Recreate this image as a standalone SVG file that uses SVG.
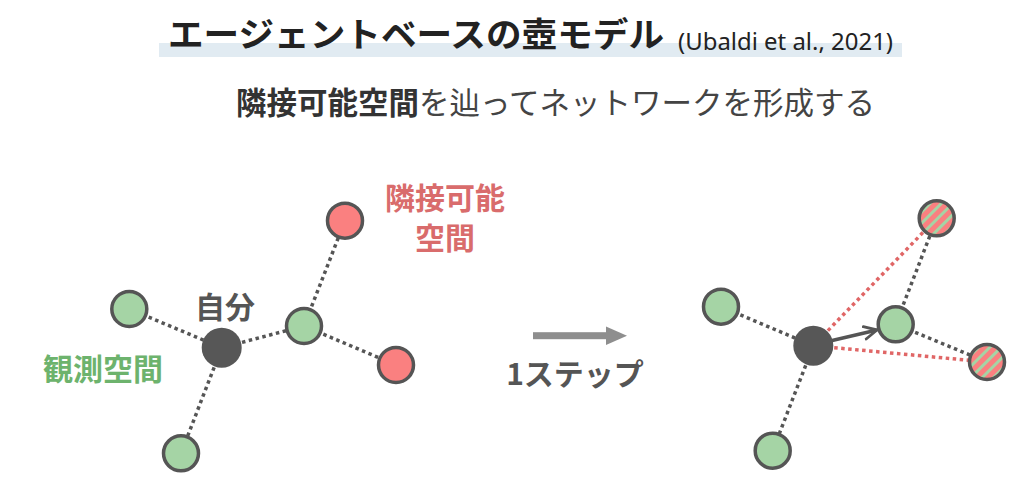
<svg xmlns="http://www.w3.org/2000/svg" width="1036" height="488" viewBox="0 0 1036 488">
<defs>
<style>
.jp{font-family:"Noto Sans CJK JP","Noto Sans",sans-serif;}
.title{font-size:34px;font-weight:700;fill:#222;}
.cite{font-family:"Noto Sans","Liberation Sans",sans-serif;font-size:24px;fill:#222;}
.sub-b{font-size:30.5px;font-weight:700;fill:#333;}
.sub-r{font-size:30.5px;font-weight:400;fill:#444;}
.lbl{font-size:30px;font-weight:700;}
.dot{stroke:#555;stroke-width:3.5;stroke-dasharray:3.5 3.5;fill:none;}
.rdot{stroke:#e06666;stroke-width:3.5;stroke-dasharray:3.5 3.5;fill:none;}
.green{fill:#a5d4a5;stroke:#555;stroke-width:3.5;}
.red{fill:#fa8080;stroke:#555;stroke-width:3.5;}
.hatch{fill:url(#stripes);stroke:#555;stroke-width:3.5;}
.self{fill:#575757;}
</style>
<pattern id="stripes" patternUnits="userSpaceOnUse" width="8" height="8" patternTransform="rotate(45)">
<rect x="0" y="0" width="8" height="8" fill="#fa8080"/>
<rect x="0" y="0" width="3" height="8" fill="#a5d4a5"/>
</pattern>
<marker id="chev" viewBox="0 0 10 10" refX="9" refY="5" markerWidth="4.5" markerHeight="4.5" orient="auto" markerUnits="strokeWidth">
<path d="M1,1 L9,5 L1,9" fill="none" stroke="#555" stroke-width="1.8" stroke-linecap="round" stroke-linejoin="round"/>
</marker>
</defs>
<rect width="1036" height="488" fill="#fff"/>

<g id="title">
<rect x="159" y="43" width="743" height="14" fill="#e1ebf2"/>
<text class="jp title" x="168" y="47" textLength="496" lengthAdjust="spacingAndGlyphs">エージェントベースの壺モデル</text>
<text class="cite" x="678" y="50" textLength="215" lengthAdjust="spacingAndGlyphs">(Ubaldi et al., 2021)</text>
</g>

<g id="subtitle">
<text class="jp" x="236" y="114"><tspan class="sub-b">隣接可能空間</tspan><tspan class="sub-r">を辿ってネットワークを形成する</tspan></text>
</g>

<g id="connectors">
<!-- left graph -->
<line class="dot" x1="129.3" y1="309" x2="221.7" y2="347.7"/>
<line class="dot" x1="221.7" y1="347.7" x2="304" y2="326"/>
<line class="dot" x1="221.7" y1="347.7" x2="181" y2="453.3"/>
<line class="dot" x1="304" y1="326" x2="345" y2="220.7"/>
<line class="dot" x1="304" y1="326" x2="396" y2="365"/>
<!-- right graph -->
<line class="dot" x1="721" y1="306.7" x2="813.3" y2="345.7"/>
<line class="dot" x1="813.3" y1="345.7" x2="772.7" y2="450.7"/>
<line class="dot" x1="895.7" y1="324.3" x2="936.7" y2="218.3"/>
<line class="dot" x1="895.7" y1="324.3" x2="987" y2="362"/>
<line class="rdot" x1="813.3" y1="345.7" x2="936.7" y2="218.3"/>
<line class="rdot" x1="813.3" y1="345.7" x2="987" y2="362"/>
<line x1="830" y1="341" x2="877" y2="330" stroke="#555" stroke-width="3.5" marker-end="url(#chev)"/>
<!-- step arrow -->
<g id="step-arrow">
<rect x="533" y="332.2" width="76" height="7" fill="#8e8e8e"/>
<polygon points="606,326.5 627,335.7 606,345" fill="#8e8e8e"/>
</g>
</g>

<g id="left-graph">
<g id="L-green1"><circle class="green" cx="129.3" cy="309" r="17.5"/></g>
<g id="L-green2"><circle class="green" cx="304" cy="326" r="17.5"/></g>
<g id="L-green3"><circle class="green" cx="181" cy="453.3" r="17.5"/></g>
<g id="L-red1"><circle class="red" cx="345" cy="220.7" r="17.5"/></g>
<g id="L-red2"><circle class="red" cx="396" cy="365" r="17.5"/></g>
<g id="L-self"><circle class="self" cx="221.7" cy="347.7" r="20"/></g>
</g>

<g id="right-graph">
<g id="R-green1"><circle class="green" cx="721" cy="306.7" r="17.5"/></g>
<g id="R-green2"><circle class="green" cx="895.7" cy="324.3" r="17.5"/></g>
<g id="R-green3"><circle class="green" cx="772.7" cy="450.7" r="17.5"/></g>
<g id="R-hatch1"><circle class="hatch" cx="936.7" cy="218.3" r="17.5"/></g>
<g id="R-hatch2"><circle class="hatch" cx="987" cy="362" r="17.5"/></g>
<g id="R-self"><circle class="self" cx="813.3" cy="345.7" r="20"/></g>
</g>

<g id="labels">
<text class="jp lbl" x="225" y="318" text-anchor="middle" fill="#555" font-size="28">自分</text>
<text class="jp lbl" x="103" y="380" text-anchor="middle" fill="#6db36d">観測空間</text>
<text class="jp lbl" x="445" y="209" text-anchor="middle" fill="#d96c6c" font-size="27" textLength="120" lengthAdjust="spacingAndGlyphs">隣接可能</text>
<text class="jp lbl" x="445" y="249" text-anchor="middle" fill="#d96c6c" font-size="27">空間</text>
<text class="jp lbl" x="575" y="385" text-anchor="middle" fill="#555" font-size="30.5">1ステップ</text>
</g>
</svg>
